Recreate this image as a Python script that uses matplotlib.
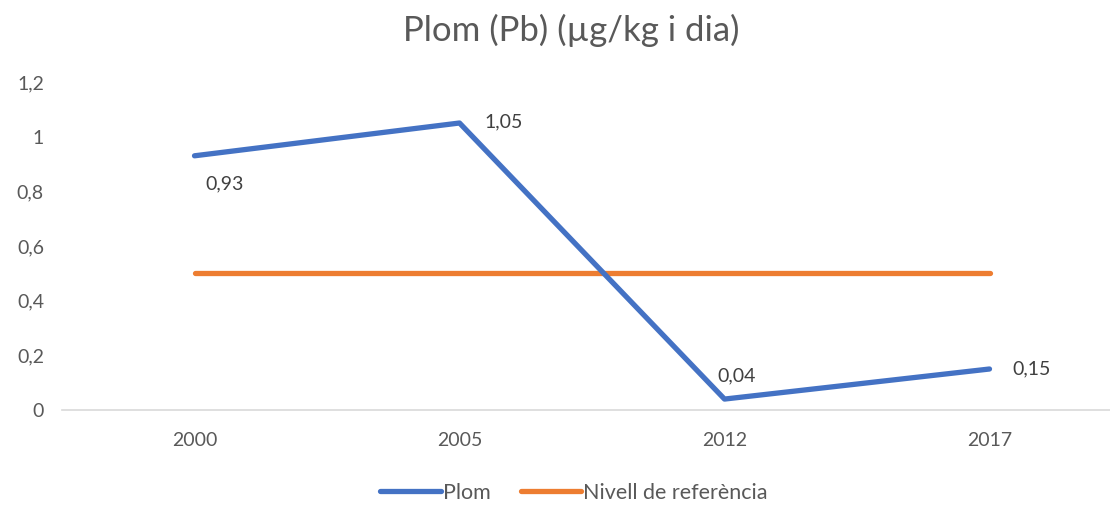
import matplotlib
matplotlib.use("Agg")
import matplotlib.pyplot as plt
from matplotlib.ticker import FuncFormatter

# data
years = ["2000", "2005", "2012", "2017"]
plom = [0.93, 1.05, 0.04, 0.15]
referencia = [0.5, 0.5, 0.5, 0.5]
label_offsets = [(22, -20), (32, 1), (9, 17), (30, 0)]  # data label positions (pt)

plt.rcParams['font.family'] = ['Lato', 'DejaVu Sans']
gray = "#595959"
blue = "#4472C4"
orange = "#ED7D31"

W, H = 1110, 509
fig = plt.figure(figsize=(W / 100, H / 100), dpi=100)
ax = fig.add_axes([62 / W, 99 / H, (W - 62) / W, 328 / H])

x = list(range(len(years)))
ax.plot(x, plom, color=blue, lw=3.8, solid_capstyle="round", label="Plom", zorder=3)
ax.plot(x, referencia, color=orange, lw=3.8, solid_capstyle="round",
        label="Nivell de referència", zorder=2)

for xi, v, off in zip(x, plom, label_offsets):
    ax.annotate(f"{v:.2f}".replace(".", ","), (xi, v), xytext=off,
                textcoords="offset points", ha="center", va="center",
                fontsize=14, color="#404040")

ax.set_xlim(-0.5, (W - 62) / 265 - 0.5)
ax.set_ylim(0, 1.2)
ax.set_xticks(x)
ax.set_xticklabels(years)
ax.set_yticks([0, 0.2, 0.4, 0.6, 0.8, 1.0, 1.2])
ax.yaxis.set_major_formatter(FuncFormatter(lambda v, p: f"{v:g}".replace(".", ",")))
ax.tick_params(axis="both", length=0, labelsize=14, colors=gray)
ax.tick_params(axis="y", pad=13)
ax.tick_params(axis="x", pad=16)

for s in ["top", "right", "left"]:
    ax.spines[s].set_visible(False)
ax.spines["bottom"].set_color("#D9D9D9")
ax.spines["bottom"].set_linewidth(1.2)
ax.spines["bottom"].set_zorder(1)

fig.text(0.515, 1 - 30 / H, "Plom (Pb) (µg/kg i dia)", ha="center", va="center",
         fontsize=25, color=gray)

leg = fig.legend(loc="center", bbox_to_anchor=(0.517, 1 - 493 / H), ncol=2,
                 frameon=False, fontsize=15.5, handlelength=2.8, handletextpad=0.1,
                 columnspacing=1.4)
for t in leg.get_texts():
    t.set_color(gray)

fig.savefig("out.png", dpi=100)
